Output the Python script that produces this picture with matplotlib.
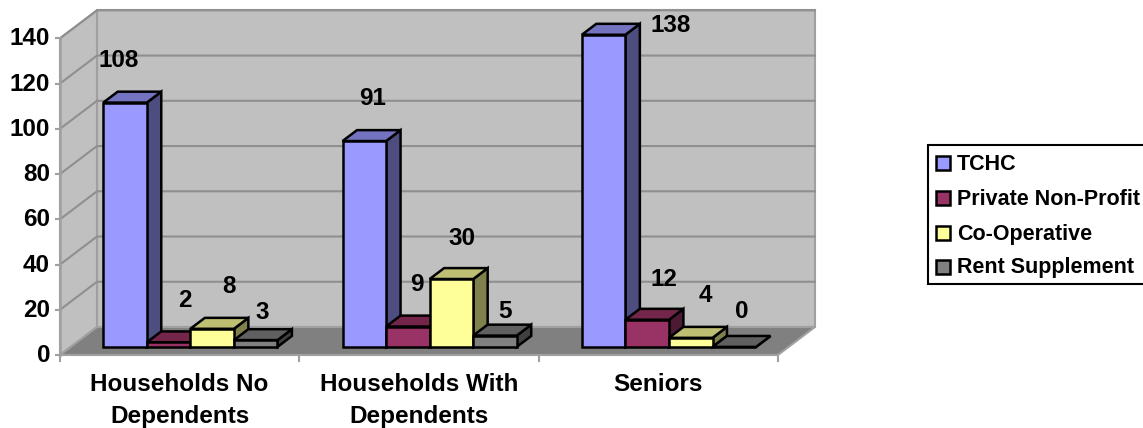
import matplotlib
matplotlib.use("Agg")
import matplotlib.pyplot as plt
from matplotlib.patches import Polygon, Rectangle

plt.rcParams['font.family'] = ['Liberation Sans', 'DejaVu Sans']

categories = ["Households No\nDependents", "Households With\nDependents", "Seniors"]
series_names = ["TCHC", "Private Non-Profit", "Co-Operative", "Rent Supplement"]
tchc = [108, 91, 138]
private_non_profit = [2, 9, 12]
co_operative = [8, 30, 4]
rent_supplement = [3, 5, 0]
y_ticks = [0, 20, 40, 60, 80, 100, 120, 140]

# front, top, side colours of each series
colors = [("#9999FF", "#7373BF", "#4D4D80"),
          ("#993366", "#732649", "#4D1A33"),
          ("#FFFF99", "#BFBF73", "#80804D"),
          ("#808080", "#606060", "#404040")]

# pixel layout of the fake 3d box
x0, y0 = 60, 355
cat_w = 239.3
y_scale = 2.262
depth_x, depth_y = 37, 28
ymax = 140
bar_offset = 0.136
bar_w = 0.182
d_front, d_back = 0.29, 0.68

# label nudges from bar top-centre, in pixels
label_dx = [[-6, 8, 67], [16, 9, 17], [17, 11, 15], [7, 10, 7]]
label_dy = [[-42, -43, -9], [-42, -42, -40], [-42, -41, -42], [-28, -24, -35]]


def pt(x, v, d=0.0):
    # category position, value and depth -> pixel
    return (x0 + cat_w * x + depth_x * d, y0 - y_scale * v - depth_y * d)


fig = plt.figure(figsize=(11.43, 4.28), dpi=100)
ax = fig.add_axes([0, 0, 1, 1])
ax.set_xlim(0, 1143)
ax.set_ylim(428, 0)
ax.axis("off")

n_cat = len(categories)
edge = "#A0A0A0"

# walls and floor
ax.add_patch(Polygon([pt(0, 0, 1), pt(n_cat, 0, 1), pt(n_cat, ymax, 1), pt(0, ymax, 1)],
                     fc="#C0C0C0", ec=edge, lw=1.5))
ax.add_patch(Polygon([pt(0, 0), pt(0, 0, 1), pt(0, ymax, 1), pt(0, ymax)],
                     fc="#C0C0C0", ec=edge, lw=1.5))
ax.add_patch(Polygon([pt(0, 0), pt(n_cat, 0), pt(n_cat, 0, 1), pt(0, 0, 1)],
                     fc="#808080", ec=edge, lw=1.5))

# gridlines and y axis
for v in y_ticks[1:]:
    xs, ys = zip(pt(0, v), pt(0, v, 1), pt(n_cat, v, 1))
    ax.plot(xs, ys, color="#8F8F8F", lw=1.5, zorder=1.5)
for v in y_ticks:
    px, py = pt(0, v)
    ax.plot([px - 4, px], [py, py], color=edge, lw=1.5)
    ax.text(px - 10, py + 0.5, str(v), ha="right", va="center", fontsize=17.5, fontweight="bold")
xs, ys = zip(pt(0, 0), pt(0, ymax))
ax.plot(xs, ys, color=edge, lw=1.8)

# category ticks and labels
for i in range(n_cat + 1):
    px, py = pt(i, 0)
    ax.plot([px, px], [py, py + 6], color=edge, lw=1.5)
for i, name in enumerate(categories):
    px, py = pt(i + 0.5, 0)
    ax.text(px, py + 18, name, ha="center", va="top", fontsize=17.5, fontweight="bold",
            linespacing=1.5)

# bars
all_series = [tchc, private_non_profit, co_operative, rent_supplement]
for c in range(n_cat):
    for s in range(len(all_series)):
        v = all_series[s][c]
        left = c + bar_offset + s * bar_w
        right = left + bar_w
        front, top, side = colors[s]
        z = 3 + s
        style = dict(ec="black", lw=1.8, joinstyle="miter", zorder=z)
        ax.add_patch(Polygon([pt(right, 0, d_front), pt(right, 0, d_back),
                              pt(right, v, d_back), pt(right, v, d_front)], fc=side, **style))
        ax.add_patch(Polygon([pt(left, v, d_front), pt(right, v, d_front),
                              pt(right, v, d_back), pt(left, v, d_back)], fc=top, **style))
        ax.add_patch(Polygon([pt(left, 0, d_front), pt(right, 0, d_front),
                              pt(right, v, d_front), pt(left, v, d_front)], fc=front, **style))
        px, py = pt((left + right) / 2, v, d_front)
        ax.text(px + label_dx[s][c], py + label_dy[s][c], str(v), ha="center", va="center",
                fontsize=17.5, fontweight="bold", zorder=10)

# legend, runs off the right edge like the original
ax.add_patch(Rectangle((928, 145), 230, 139, fc="white", ec="black", lw=1.5))
legend_y = [163, 198, 233, 267]
for name, col, ly in zip(series_names, colors, legend_y):
    ax.add_patch(Rectangle((936, ly - 7), 14, 14, fc=col[0], ec="black", lw=1.8))
    ax.text(957, ly + 1, name, ha="left", va="center", fontsize=15.5, fontweight="bold")

fig.savefig("out.png", dpi=100)
